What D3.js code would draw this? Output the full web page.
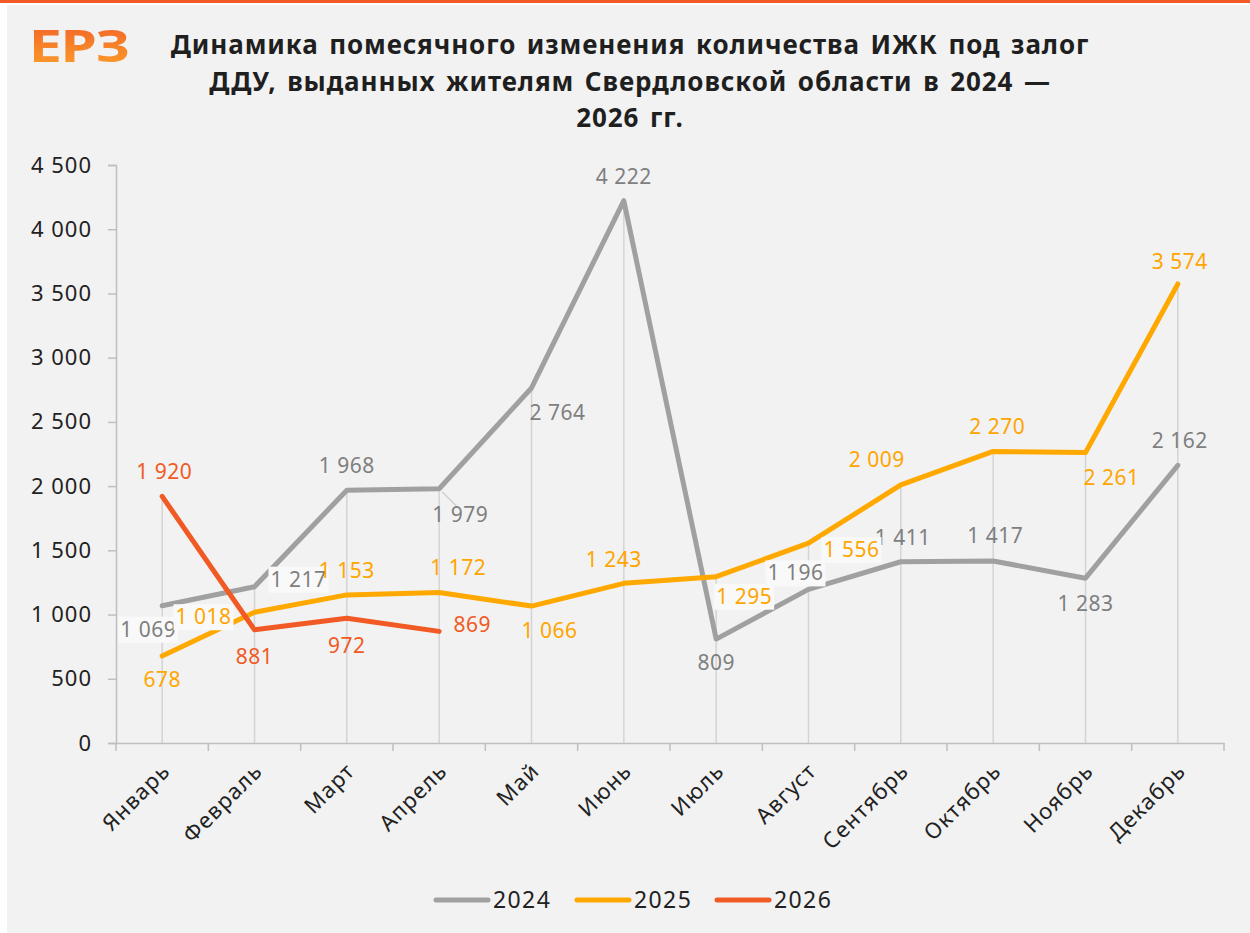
<!DOCTYPE html>
<html>
<head>
<meta charset="utf-8">
<script src="https://cdn.jsdelivr.net/npm/d3@7"></script>
<style>
  body { margin: 0; background: #fff; }
  svg { display: block; font-family: "Noto Sans", sans-serif; }
</style>
</head>
<body>
<svg id="chart" width="1250" height="933"></svg>
<script>
'use strict';

var months = ['Январь', 'Февраль', 'Март', 'Апрель', 'Май', 'Июнь',
	'Июль', 'Август', 'Сентябрь', 'Октябрь', 'Ноябрь', 'Декабрь'];
var years = ['2024', '2025', '2026'];
var values2024 = [1069, 1217, 1968, 1979, 2764, 4222, 809, 1196, 1411, 1417, 1283, 2162];
var values2025 = [678, 1018, 1153, 1172, 1066, 1243, 1295, 1556, 2009, 2270, 2261, 3574];
var values2026 = [1920, 881, 972, 869];
var yTicks = [0, 500, 1000, 1500, 2000, 2500, 3000, 3500, 4000, 4500];
var titleLines = [
	'Динамика помесячного изменения количества ИЖК под залог',
	'ДДУ, выданных жителям Свердловской области в 2024 —',
	'2026 гг.'
];

// label offsets from their point (dx to label centre, dy to baseline)
var offsets2024 = [[-14, 31], [44, 0], [0, -17], [21, 33], [26, 32], [0, -17],
	[0, 31], [-13, -9], [2, -17], [2, -18], [0, 33], [2, -17]];
var offsets2025 = [[0, 31], [-51, 12], [0, -17], [19, -17], [18, 32], [-10, -16],
	[28, 27], [43, 14], [-24, -18], [4, -17], [26, 32], [2, -15]];
var offsets2026 = [[2, -17], [0, 34], [0, 35], [33, 1]];
// labels drawn on a light box
var boxed = { '2024': [0, 1, 7], '2025': [1, 6, 7], '2026': [] };

var colors = { '2024': '#a0a0a0', '2025': '#ffa800', '2026': '#f15a24' };
var labelColors = { '2024': '#7f7f7f', '2025': '#ffa500', '2026': '#f15a24' };

var series = [
	{ name: '2024', values: values2024, offsets: offsets2024 },
	{ name: '2025', values: values2025, offsets: offsets2025 },
	{ name: '2026', values: values2026, offsets: offsets2026 }
];

var svg = d3.select('#chart');
var W = 1250, H = 933;

// frame
svg.append('rect').attr('x', 7).attr('y', 5).attr('width', W - 7).attr('height', H - 5).attr('fill', '#f2f2f2');
svg.append('rect').attr('x', 0).attr('y', 0).attr('width', W).attr('height', 3).attr('fill', '#f15a24');

// logo
var grad = svg.append('defs').append('linearGradient')
	.attr('id', 'logoGrad').attr('x1', 0).attr('y1', 0).attr('x2', 0).attr('y2', 1);
grad.append('stop').attr('offset', '0%').attr('stop-color', '#f05a28');
grad.append('stop').attr('offset', '100%').attr('stop-color', '#fca52a');
svg.append('text')
	.attr('transform', 'translate(29,62) scale(1.3,1)')
	.attr('font-size', 45).attr('font-weight', 700)
	.attr('fill', 'url(#logoGrad)')
	.attr('letter-spacing', -1)
	.text('ЕРЗ');

// title
svg.append('g').selectAll('text').data(titleLines).enter().append('text')
	.attr('x', 630)
	.attr('y', function (d, i) { return 54 + i * 36.5; })
	.attr('text-anchor', 'middle')
	.attr('font-size', 26).attr('font-weight', 700)
	.attr('fill', '#1f1f1f')
	.attr('letter-spacing', 0.9)
	.attr('word-spacing', 3)
	.text(function (d) { return d; });

var margin = { left: 116, right: 1224, top: 165, bottom: 743 };

var x = d3.scaleBand().domain(months).range([margin.left, margin.right]);
var y = d3.scaleLinear().domain([0, 4500]).range([margin.bottom, margin.top]);
var cx = function (i) { return x(months[i]) + x.bandwidth() / 2; };

var fmt = function (v) {
	return d3.format(',')(v).replace(/,/g, '\u00a0');
};

// drop lines
var maxes = months.map(function (m, i) {
	return d3.max(series, function (s) { return s.values[i] === undefined ? 0 : s.values[i]; });
});
svg.append('g').selectAll('line').data(maxes).enter().append('line')
	.attr('x1', function (d, i) { return cx(i); })
	.attr('x2', function (d, i) { return cx(i); })
	.attr('y1', y(0))
	.attr('y2', function (d) { return y(d); })
	.attr('stroke', '#d4d4d4').attr('stroke-width', 1.5);

// y axis
var yAxis = svg.append('g')
	.attr('transform', 'translate(' + margin.left + ',0)')
	.call(d3.axisLeft(y).tickValues(yTicks).tickSize(8).tickPadding(16).tickFormat(fmt));
yAxis.select('.domain').attr('stroke', '#bfbfbf').attr('stroke-width', 1.5);
yAxis.selectAll('.tick line').attr('stroke', '#bfbfbf').attr('stroke-width', 1.5);
yAxis.selectAll('.tick text').attr('font-size', 22).attr('fill', '#222')
	.attr('letter-spacing', 1).attr('font-family', '"Noto Sans", sans-serif');

// x axis
var xAxis = svg.append('g')
	.attr('transform', 'translate(0,' + margin.bottom + ')')
	.call(d3.axisBottom(x).tickSize(0).tickPadding(0));
xAxis.select('.domain').attr('stroke', '#bfbfbf').attr('stroke-width', 1.5);
xAxis.selectAll('.tick text')
	.attr('font-size', 22).attr('fill', '#222').attr('font-family', '"Noto Sans", sans-serif')
	.attr('letter-spacing', 1.2)
	.attr('text-anchor', 'end')
	.attr('transform', 'translate(0,20) rotate(-45)')
	.attr('dy', '0.6em');
// boundary ticks between bands
var edges = months.map(function (m) { return x(m); }).concat([margin.right]);
svg.append('g').selectAll('line').data(edges).enter().append('line')
	.attr('x1', function (d) { return d; }).attr('x2', function (d) { return d; })
	.attr('y1', margin.bottom).attr('y2', margin.bottom + 8)
	.attr('stroke', '#bfbfbf').attr('stroke-width', 1.5);

// lines
var line = d3.line()
	.x(function (d, i) { return cx(i); })
	.y(function (d) { return y(d); });

svg.append('g').selectAll('path').data(series).enter().append('path')
	.attr('d', function (s) { return line(s.values); })
	.attr('fill', 'none')
	.attr('stroke', function (s) { return colors[s.name]; })
	.attr('stroke-width', 5)
	.attr('stroke-linejoin', 'round')
	.attr('stroke-linecap', 'round');

// value labels
var labelData = [];
series.forEach(function (s) {
	s.values.forEach(function (v, i) {
		labelData.push({
			name: s.name, v: v, i: i,
			lx: cx(i) + s.offsets[i][0],
			ly: y(v) + s.offsets[i][1],
			box: boxed[s.name].indexOf(i) >= 0
		});
	});
});

// leader line for the April 2024 label
var apr = labelData.filter(function (d) { return d.name === '2024' && d.i === 3; })[0];
svg.append('line')
	.attr('x1', cx(3) + 3).attr('y1', y(apr.v) + 3)
	.attr('x2', apr.lx - 4).attr('y2', apr.ly - 16)
	.attr('stroke', '#d0d0d0').attr('stroke-width', 1.5);

var lg = svg.append('g').selectAll('g').data(labelData).enter().append('g');
lg.append('text')
	.attr('x', function (d) { return d.lx; })
	.attr('y', function (d) { return d.ly; })
	.attr('text-anchor', 'middle')
	.attr('font-size', 21)
	.attr('letter-spacing', 0.5)
	.attr('fill', function (d) { return labelColors[d.name]; })
	.text(function (d) { return fmt(d.v); });
lg.filter(function (d) { return d.box; }).insert('rect', 'text')
	.each(function (d) {
		var bb = d3.select(this.parentNode).select('text').node().getBBox();
		d3.select(this)
			.attr('x', bb.x - 2).attr('y', bb.y + 2)
			.attr('width', bb.width + 4).attr('height', bb.height - 2);
	})
	.attr('fill', '#f9f9f9');

// legend
var legend = svg.append('g').attr('transform', 'translate(436,900)');
var leg = legend.selectAll('g').data(years).enter().append('g')
	.attr('transform', function (d, i) { return 'translate(' + [0, 141, 281][i] + ',0)'; });
leg.append('line')
	.attr('x1', 0).attr('x2', 52).attr('y1', 0).attr('y2', 0)
	.attr('stroke', function (d) { return colors[d]; })
	.attr('stroke-width', 5).attr('stroke-linecap', 'round');
leg.append('text')
	.attr('x', 57).attr('y', 8)
	.attr('font-size', 23).attr('fill', '#222')
	.attr('letter-spacing', 1.4)
	.text(function (d) { return d; });
</script>
</body>
</html>
